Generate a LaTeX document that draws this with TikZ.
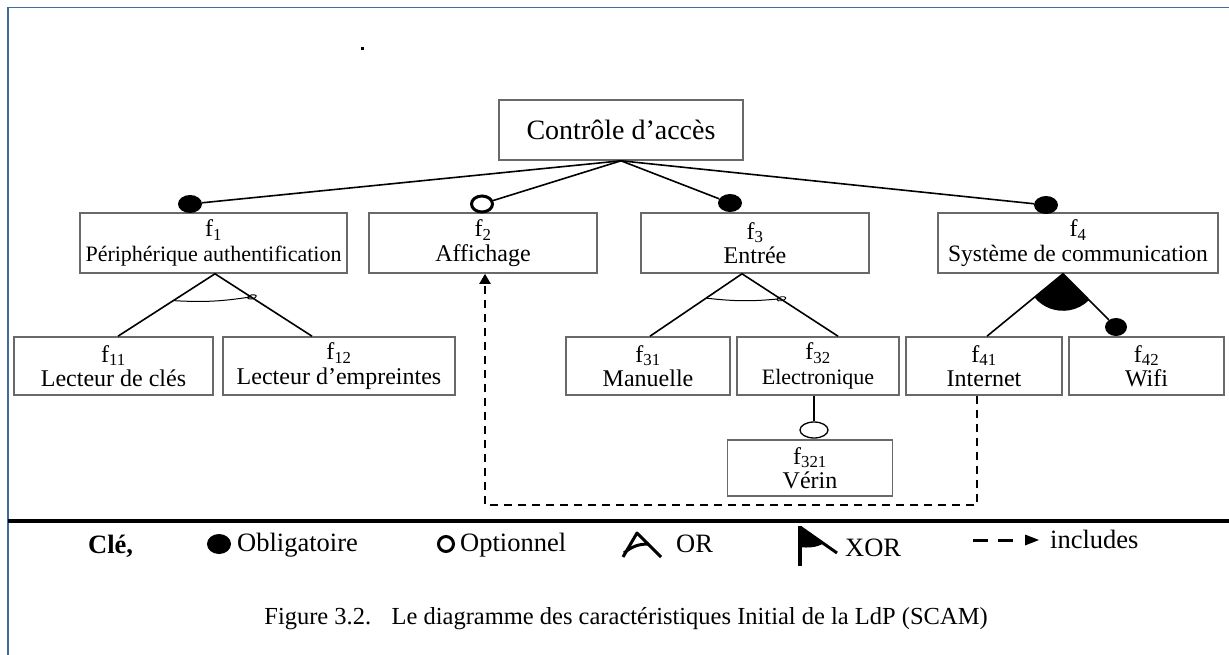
\documentclass[tikz,border=0pt]{standalone}
\usepackage{fontspec}
\setmainfont{Liberation Serif}
\usetikzlibrary{shapes.geometric,arrows.meta,calc}
\definecolor{framecol}{RGB}{68,105,160}
\definecolor{boxcol}{RGB}{105,105,105}
\newcommand{\featlab}[1]{f\textsubscript{#1}}

\begin{document}
\begin{tikzpicture}[x=1pt,y=1pt,
  feat/.style={draw=boxcol, line width=1.6pt, align=center, inner sep=0pt,
    font=\fontsize{24}{24.5}\selectfont},
  link/.style={line width=1.6pt},
  thin/.style={line width=1pt},
  mand/.style={ellipse, fill=black, inner sep=0pt, minimum width=24pt, minimum height=18pt},
  opt/.style={ellipse, draw=black, line width=3pt, fill=white, inner sep=0pt,
    minimum width=21pt, minimum height=16pt},
  optsmall/.style={ellipse, draw=black, line width=1.3pt, fill=white, inner sep=0pt,
    minimum width=28pt, minimum height=16pt},
  loop/.style={ellipse, draw=black, line width=0.9pt, inner sep=0pt,
    minimum width=9pt, minimum height=4pt, rotate=12},
  legend/.style={font=\fontsize{26.5}{30}\selectfont, inner sep=0pt, anchor=base west},
  incl/.style={line width=2pt, dash pattern=on 8pt off 6pt},
  sym/.style={line width=3pt},
]
\useasboundingbox (0,0) rectangle (1229,-655);

% page frame and stray dot
\draw[framecol, line width=1.5pt] (8,-655) -- (8,-7.5) -- (1229,-7.5);
\fill (360.5,-47.5) rectangle (363.5,-50.5);

% root feature
\node[feat, minimum width=244pt, minimum height=60pt, font=\fontsize{28}{30}\selectfont]
  (root) at (621,-130) {Contrôle d’accès};

% first level
\node[feat, minimum width=267pt, minimum height=60pt] (f1) at (213.5,-243)
  {\featlab{1}\\{\fontsize{22}{24.5}\selectfont Périphérique authentification}};
\node[feat, minimum width=228pt, minimum height=60pt] (f2) at (483,-243)
  {\featlab{2}\\Affichage};
\node[feat, minimum width=228pt, minimum height=60pt] (f3) at (755,-243)
  {\featlab{3}\\Entrée};
\node[feat, minimum width=280pt, minimum height=60pt] (f4) at (1078,-243)
  {\featlab{4}\\{\fontsize{23.5}{24.5}\selectfont Système de communication}};

% second level
\node[feat, minimum width=199pt, minimum height=58pt] (f11) at (113.5,-366)
  {\featlab{11}\\Lecteur de clés};
\node[feat, minimum width=232pt, minimum height=58pt] (f12) at (339,-366)
  {\featlab{12}\\Lecteur d’empreintes};
\node[feat, minimum width=164pt, minimum height=58pt] (f31) at (648,-366)
  {\featlab{31}\\Manuelle};
\node[feat, minimum width=162pt, minimum height=58pt] (f32) at (818,-366)
  {\featlab{32}\\{\fontsize{22}{24.5}\selectfont Electronique}};
\node[feat, minimum width=156pt, minimum height=58pt] (f41) at (984,-366)
  {\featlab{41}\\Internet};
\node[feat, minimum width=155pt, minimum height=58pt] (f42) at (1146.5,-366)
  {\featlab{42}\\Wifi};

% third level
\node[feat, minimum width=165pt, minimum height=56pt] (f321) at (810,-468)
  {\featlab{321}\\Vérin};

% mandatory / optional markers
\node[mand] (m1) at (190,-204) {};
\node[opt] (o2) at (482,-204) {};
\node[mand] (m3) at (730,-203) {};
\node[mand] (m4) at (1046,-205) {};
\node[mand, minimum width=22pt] (m42) at (1116,-327) {};
\node[optsmall] (o321) at (814,-430) {};

% root links
\draw[link] (root.south) -- (m1);
\draw[link] (root.south) -- (o2);
\draw[link] (root.south) -- (m3);
\draw[link] (root.south) -- (m4);

% OR group under f1
\coordinate (a1) at ([xshift=1.5pt]f1.south);
\coordinate (b11) at ([xshift=4.5pt]f11.north);
\coordinate (b12) at ([xshift=-27pt]f12.north);
\draw[link] (b11) -- (a1) -- (b12);
\draw[thin] ($(a1)!0.43!(b11)$) to[bend right=6] ($(a1)!0.37!(b12)$);
\node[loop] (l1) at ($(a1)!0.37!(b12)+(1pt,0)$) {};

% OR group under f3
\coordinate (a3) at ([xshift=-13pt]f3.south);
\coordinate (b31) at ([xshift=2pt]f31.north);
\coordinate (b32) at ([xshift=20pt]f32.north);
\draw[link] (b31) -- (a3) -- (b32);
\draw[thin] ($(a3)!0.39!(b31)$) to[bend right=6] ($(a3)!0.40!(b32)$);
\node[loop] (l3) at ($(a3)!0.40!(b32)+(1pt,0)$) {};

% XOR group under f4
\coordinate (a4) at ([xshift=-15pt]f4.south);
\coordinate (b41) at ([xshift=3pt]f41.north);
\draw[link] (b41) -- (a4) -- (m42);
\fill (a4) -- ++(220:37pt) arc[start angle=220, end angle=314.5, radius=37pt] -- cycle;

% optional child of f32
\draw[link] (f32.south -| o321) -- (o321);

% includes dependency
\coordinate (dbot) at (0,-505);
\draw[incl, -{Triangle[width=11pt,length=10pt]}]
  ([xshift=-7pt]f41.south) -- ([xshift=-7pt]f41.south |- dbot)
  -- ([xshift=2pt]f2.south |- dbot) -- ([xshift=2pt]f2.south);

% separator
\draw[line width=4pt] (8,-521) -- (1229,-521);

% legend
\node[legend, font=\bfseries\fontsize{26.5}{30}\selectfont] (kcle) at (88,-553) {Clé,};
\node[mand, minimum width=24pt, minimum height=20pt] (kmand) at (219,-544) {};
\node[legend] (kmandt) at (237,-551) {Obligatoire};
\node[ellipse, draw, line width=3pt, minimum width=15pt, minimum height=15pt, inner sep=0pt]
  (kopt) at (446,-544) {};
\node[legend] (kopttxt) at (460,-551) {Optionnel};
% OR pictogram
\draw[sym, line join=round] (623,-557) -- (637,-533) -- (661,-557);
\draw[sym] (624,-553) to[bend left=20] (649,-544);
\node[legend] (kor) at (676,-552) {OR};
% XOR pictogram
\draw[line width=3.5pt] (800,-526) -- (800,-566);
\fill (800,-527) -- (824,-543) .. controls (817,-548) and (806,-548) .. (800,-547) -- cycle;
\draw[sym] (800,-527) -- (837,-553);
\node[legend] (kxor) at (845,-556) {XOR};
% includes pictogram
\draw[sym] (973,-540) -- (988,-540);
\draw[sym] (998,-540) -- (1013,-540);
\fill (1025,-534.5) -- (1039,-540) -- (1025,-545.5) -- cycle;
\node[legend] (kinc) at (1050,-548) {includes};

% caption
\node[font=\fontsize{24.5}{28}\selectfont, inner sep=0pt] (cap) at (626,-619)
  {Figure 3.2.\hspace{0.5em} Le diagramme des caractéristiques Initial de la LdP (SCAM)};
\end{tikzpicture}
\end{document}
